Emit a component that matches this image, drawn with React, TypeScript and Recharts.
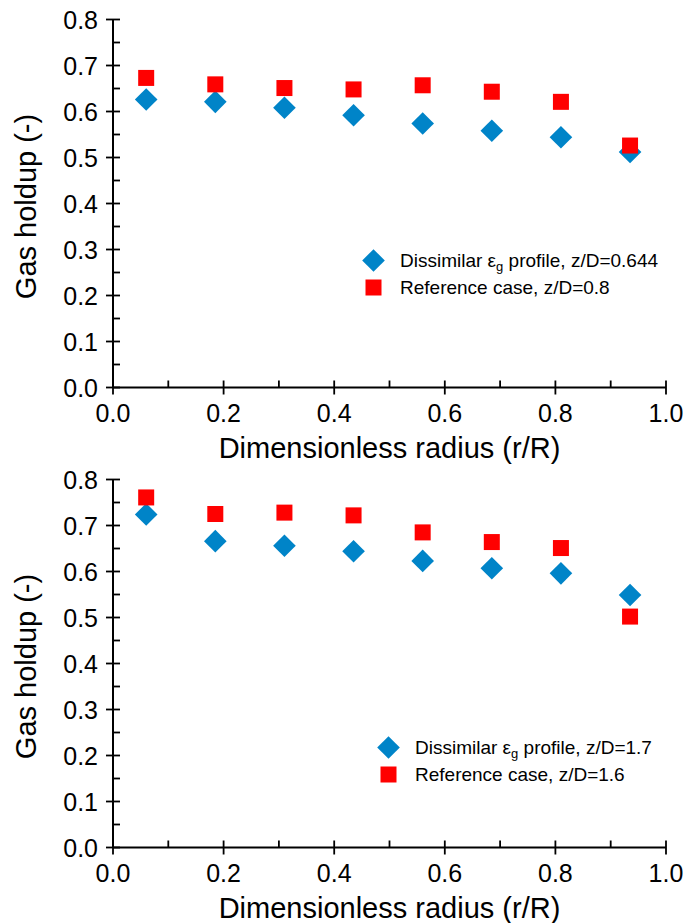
import React from 'react';
import { ScatterChart, Scatter, XAxis, YAxis, Legend, Label } from 'recharts';

const radius = [0.06, 0.185, 0.31, 0.435, 0.56, 0.685, 0.81, 0.935];

const topDissimilar = [0.626, 0.621, 0.608, 0.592, 0.574, 0.558, 0.544, 0.512];
const topReference = [0.673, 0.659, 0.651, 0.648, 0.657, 0.643, 0.621, 0.526];

const bottomDissimilar = [0.724, 0.666, 0.656, 0.644, 0.623, 0.607, 0.596, 0.549];
const bottomReference = [0.761, 0.725, 0.728, 0.722, 0.685, 0.664, 0.651, 0.502];

const yTicks = [0, 0.05, 0.1, 0.15, 0.2, 0.25, 0.3, 0.35, 0.4, 0.45, 0.5, 0.55, 0.6, 0.65, 0.7, 0.75, 0.8];
const yMajor = [0, 0.1, 0.2, 0.3, 0.4, 0.5, 0.6, 0.7, 0.8];
const xTicks = [0, 0.1, 0.2, 0.3, 0.4, 0.5, 0.6, 0.7, 0.8, 0.9, 1.0];
const xMajor = [0, 0.2, 0.4, 0.6, 0.8, 1.0];

const FONT = '"Liberation Sans", Arial, sans-serif';
const BLUE = '#0084C8';
const RED = '#FF0000';
const TICK = 7;

const isMajor = (v: number, majors: number[]) => majors.some((m) => Math.abs(m - v) < 1e-6);

const LeftTick = (props: any) => {
  const { x, y, payload } = props;
  const major = isMajor(payload.value, yMajor);
  return (
    <g>
      <line x1={major ? x - TICK : x} x2={x + TICK} y1={y} y2={y} stroke="#000" strokeWidth={1.8} />
      {major && (
        <text x={x - 15} y={y} dy="0.36em" textAnchor="end" fontSize={25} fontFamily={FONT} fill="#000">
          {payload.value.toFixed(1)}
        </text>
      )}
    </g>
  );
};

const RightTick = (props: any) => {
  const { x, y, payload } = props;
  const major = isMajor(payload.value, yMajor);
  return (
    <line x1={x - TICK} x2={major ? x + TICK : x} y1={y} y2={y} stroke="#000" strokeWidth={1.8} />
  );
};

const BottomTick = (props: any) => {
  const { x, y, payload } = props;
  const major = isMajor(payload.value, xMajor);
  return (
    <g>
      <line x1={x} x2={x} y1={y - TICK} y2={major ? y + TICK : y} stroke="#000" strokeWidth={1.8} />
      {major && (
        <text x={x} y={y + 34} textAnchor="middle" fontSize={25} fontFamily={FONT} fill="#000">
          {payload.value.toFixed(1)}
        </text>
      )}
    </g>
  );
};

const Diamond = (props: any) => {
  const { cx, cy } = props;
  const r = 11.3;
  return <path d={`M${cx},${cy - r}L${cx + r},${cy}L${cx},${cy + r}L${cx - r},${cy}Z`} fill={BLUE} />;
};

const Square = (props: any) => {
  const { cx, cy } = props;
  return <rect x={cx - 8} y={cy - 8} width={16} height={16} fill={RED} />;
};

const LegendIcon = ({ kind }: { kind: 'diamond' | 'square' }) => (
  <svg width={27} height={27} style={{ display: 'block', flex: 'none' }}>
    {kind === 'diamond' ? (
      <path d="M13.5,2.2L24.8,13.5L13.5,24.8L2.2,13.5Z" fill={BLUE} />
    ) : (
      <rect x={5.5} y={5.5} width={16} height={16} fill={RED} />
    )}
  </svg>
);

const makeLegend = (zDiss: string, zRef: string) => () => (
  <div style={{ fontFamily: FONT, fontSize: 19, color: '#000', whiteSpace: 'nowrap' }}>
    <div style={{ display: 'flex', alignItems: 'center', height: 27 }}>
      <LegendIcon kind="diamond" />
      <span style={{ marginLeft: 13.5, lineHeight: '27px' }}>
        Dissimilar ε<sub style={{ fontSize: 13, lineHeight: 0, verticalAlign: '-0.3em' }}>g</sub> profile, z/D={zDiss}
      </span>
    </div>
    <div style={{ display: 'flex', alignItems: 'center', height: 27 }}>
      <LegendIcon kind="square" />
      <span style={{ marginLeft: 13.5, lineHeight: '27px' }}>Reference case, z/D={zRef}</span>
    </div>
  </div>
);

const toPoints = (xs: number[], ys: number[]) => xs.map((x, i) => ({ x, y: ys[i] }));

const YTitle = (props: any) => {
  const { viewBox } = props;
  const cy = viewBox.y + viewBox.height / 2 + 3;
  return (
    <text x={26} y={cy} transform={`rotate(-90 26 ${cy})`} textAnchor="middle" dy="0.36em" fontSize={29} fontFamily={FONT} fill="#000">
      Gas holdup (-)
    </text>
  );
};

const XTitle = (props: any) => {
  const { viewBox } = props;
  const cx = viewBox.x + viewBox.width / 2;
  return (
    <text x={cx} y={viewBox.y + 70} textAnchor="middle" fontSize={29} fontFamily={FONT} fill="#000">
      Dimensionless radius (r/R)
    </text>
  );
};

const Panel = ({ diss, ref: refVals, zDiss, zRef, legendLeft }: any) => {
  const dissData = toPoints(radius, diss);
  const refData = toPoints(radius, refVals);
  return (
    <ScatterChart width={683} height={466} margin={{ top: 19.5, right: 17, left: 53, bottom: 466 - 387.5 - 60 }}>
      <XAxis
        type="number"
        dataKey="x"
        domain={[0, 1]}
        ticks={xTicks}
        interval={0}
        tickSize={0}
        tickMargin={0}
        tick={<BottomTick />}
        tickLine={false}
        axisLine={{ stroke: '#000', strokeWidth: 2 }}
        height={60}
      >
        <Label content={<XTitle />} />
      </XAxis>
      <XAxis
        xAxisId="top"
        orientation="top"
        type="number"
        dataKey="x"
        domain={[0, 1]}
        height={0}
        tick={false}
        tickLine={false}
        axisLine={{ stroke: '#000', strokeWidth: 2 }}
      />
      <YAxis
        type="number"
        dataKey="y"
        domain={[0, 0.8]}
        ticks={yTicks}
        interval={0}
        tickSize={0}
        tickMargin={0}
        tick={<LeftTick />}
        tickLine={false}
        axisLine={{ stroke: '#000', strokeWidth: 2 }}
        width={60}
      >
        <Label content={<YTitle />} />
      </YAxis>
      <YAxis
        yAxisId="right"
        orientation="right"
        type="number"
        dataKey="y"
        domain={[0, 0.8]}
        ticks={yTicks}
        interval={0}
        tickSize={0}
        tickMargin={0}
        tick={<RightTick />}
        tickLine={false}
        axisLine={{ stroke: '#000', strokeWidth: 2 }}
        width={0}
      />
      <Legend
        layout="horizontal"
        verticalAlign="middle"
        align="center"
        content={makeLegend(zDiss, zRef)}
        wrapperStyle={{ left: legendLeft, top: 246.5 + (legendLeft === 359.5 ? 0 : 27), width: 320, height: 54 }}
      />
      <Scatter name="Dissimilar" data={dissData} shape={<Diamond />} isAnimationActive={false} />
      <Scatter name="Reference" data={refData} shape={<Square />} isAnimationActive={false} />
    </ScatterChart>
  );
};

export default function App() {
  return (
    <div style={{ position: 'absolute', left: 0, top: 0, width: 683, height: 923, background: '#fff', overflow: 'hidden' }}>
      <div style={{ position: 'absolute', left: 0, top: 0 }}>
        <Panel diss={topDissimilar} ref={topReference} zDiss="0.644" zRef="0.8" legendLeft={359.5} />
      </div>
      <div style={{ position: 'absolute', left: 0, top: 460 }}>
        <Panel diss={bottomDissimilar} ref={bottomReference} zDiss="1.7" zRef="1.6" legendLeft={374.5} />
      </div>
    </div>
  );
}
